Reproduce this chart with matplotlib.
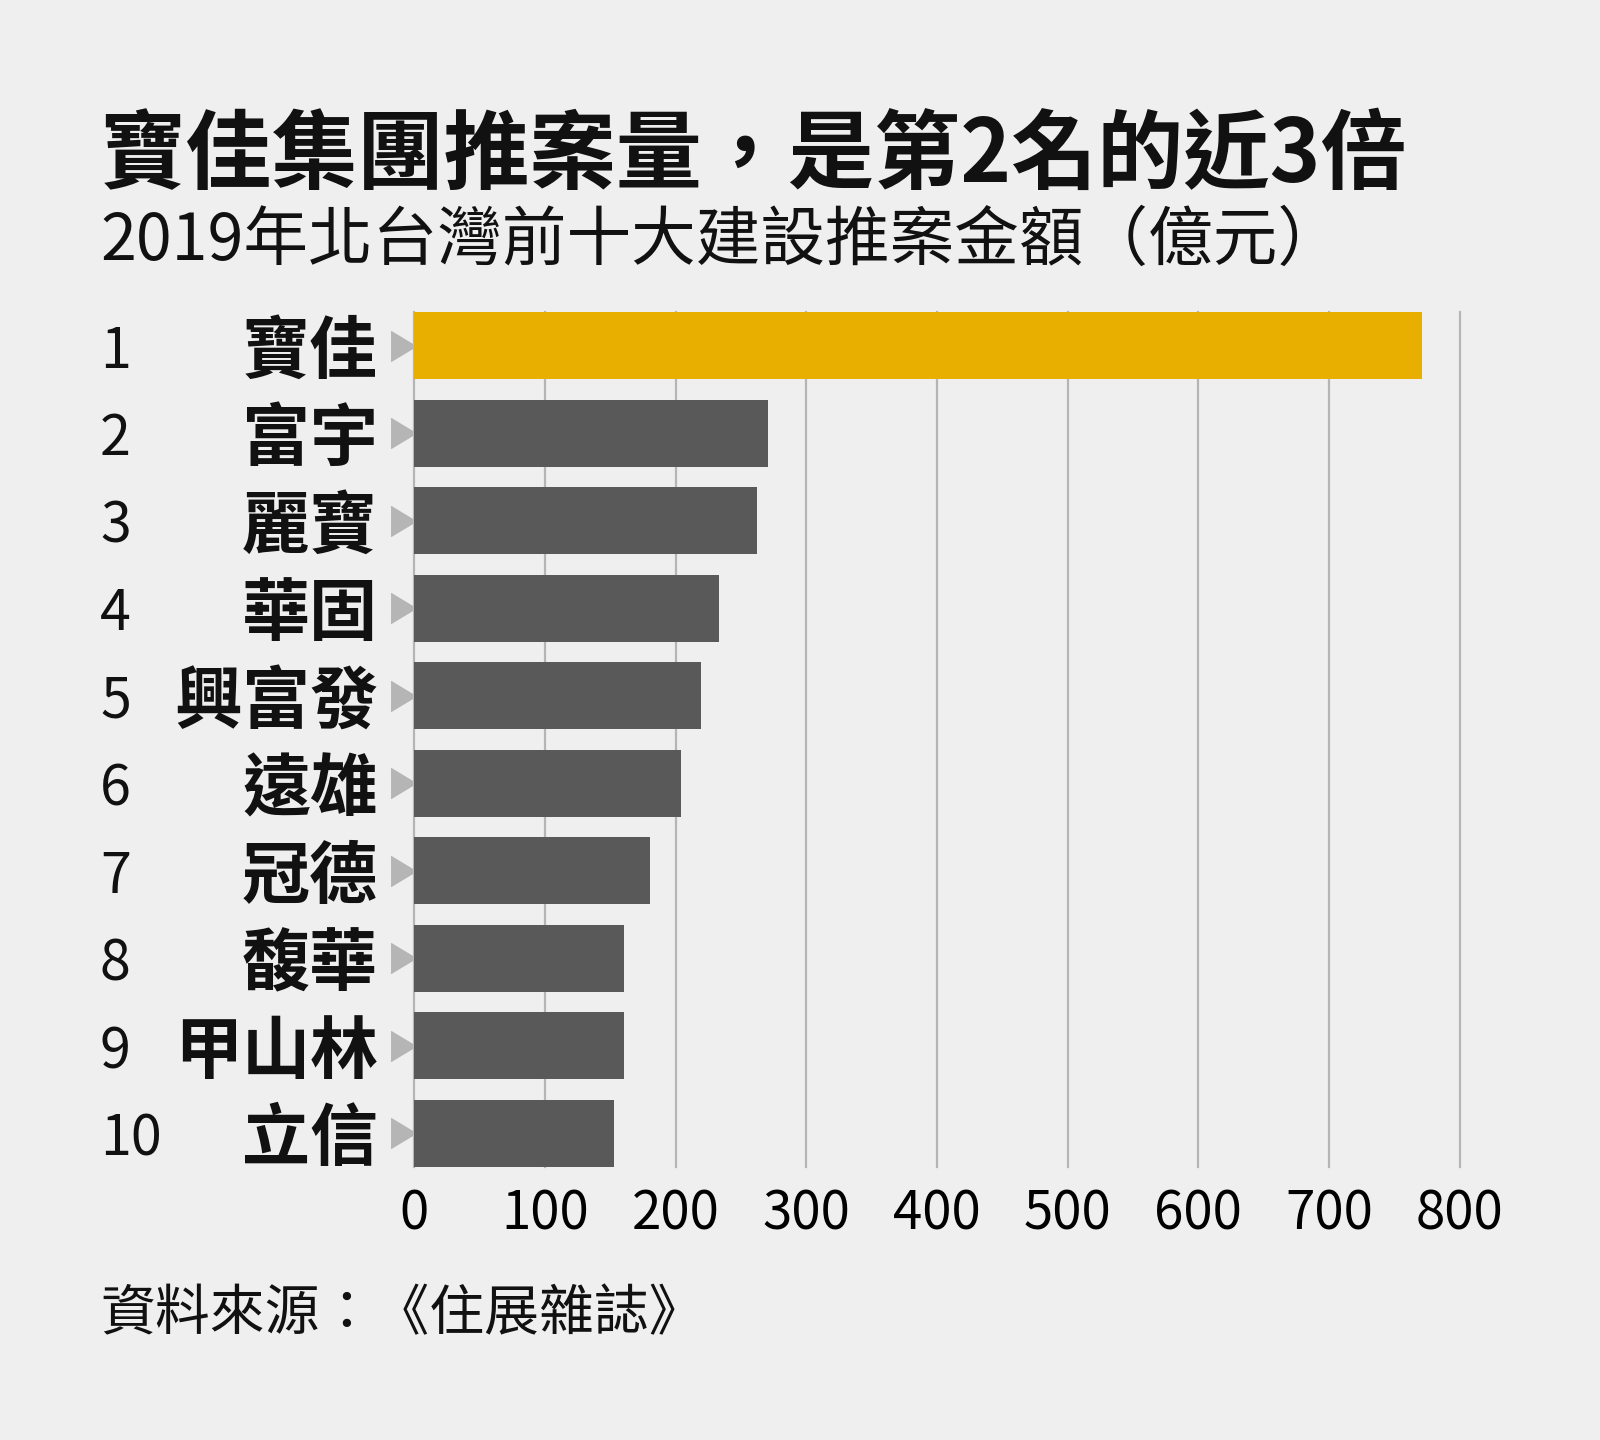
import numpy as np
import matplotlib
matplotlib.use('Agg')
from matplotlib import pyplot as plt
from matplotlib import transforms

################################################################################
### Data
################################################################################

ranks = ['1', '2', '3', '4', '5', '6', '7', '8', '9', '10']
companies = ['寶佳', '富宇', '麗寶', '華固', '興富發', '遠雄', '冠德', '馥華', '甲山林', '立信']
amounts = [771, 271, 262, 233, 219, 204, 180, 160, 160, 153]   # 億元
xticks = [0, 100, 200, 300, 400, 500, 600, 700, 800]

title = '寶佳集團推案量，是第2名的近3倍'
subtitle = '2019年北台灣前十大建設推案金額（億元）'
source = '資料來源：《住展雜誌》'

################################################################################
### Style
################################################################################

bg = '#efefef'
gold = '#e8ae00'
dark = '#595959'
gridc = '#b5b5b5'
cjk = ['Noto Sans CJK TC', 'DejaVu Sans']

plt.rcParams['font.family'] = cjk

W, H = 1600, 1440
fig = plt.figure(figsize=(16, 14.4), dpi=100, facecolor=bg)

# axes placed in pixel terms of the reference layout
left, right = 414.5 / W, 1459.5 / W
top, bottom = 1 - 312 / H, 1 - 1167 / H
ax = fig.add_axes([left, bottom, right - left, top - bottom])
ax.set_facecolor(bg)

y = np.arange(len(companies))
colors = [gold] + [dark] * (len(companies) - 1)
ax.barh(y, amounts, height=0.77, color=colors, zorder=3)

ax.set_xlim(0, 800)
ax.set_ylim(len(companies) - 1 + 0.385, -0.385)

for t in xticks:
    ax.axvline(t, color=gridc, lw=1.6, zorder=1, clip_on=False)

for s in ax.spines.values():
    s.set_visible(False)
ax.set_yticks([])
ax.set_xticks(xticks)
ax.set_xticklabels([str(t) for t in xticks], fontsize=38, fontweight='light')
ax.tick_params(axis='x', length=0, pad=14)

# little grey arrow heads in front of each bar
tri = [(-0.83, -1), (0.83, 0), (-0.83, 1)]
ax.plot(np.full(len(y), -9.0), y, linestyle='none', marker=tri,
        markersize=21.6, color=gridc, clip_on=False, zorder=2)

# rank numbers and company names
tr = transforms.blended_transform_factory(fig.transFigure, ax.transData)
for yi, r, c in zip(y, ranks, companies):
    ax.text(100 / W, yi, r, transform=tr, ha='left', va='center_baseline',
            fontsize=40, fontweight='light', color='#111111')
    ax.text(378 / W, yi, c, transform=tr, ha='right', va='center_baseline',
            fontsize=49, fontweight='bold', color='#111111')

################################################################################
### Titles
################################################################################

fig.text(100 / W, 1 - 147 / H, title, ha='left', va='center_baseline',
         fontsize=62, fontweight='bold', color='#111111')
fig.text(100 / W, 1 - 234 / H, subtitle, ha='left', va='center_baseline',
         fontsize=46.5, fontweight='light', color='#111111')
fig.text(100 / W, 1 - 1308 / H, source, ha='left', va='center_baseline',
         fontsize=39.5, fontweight='light', color='#111111')

fig.savefig('out.png', dpi=100, facecolor=bg)
